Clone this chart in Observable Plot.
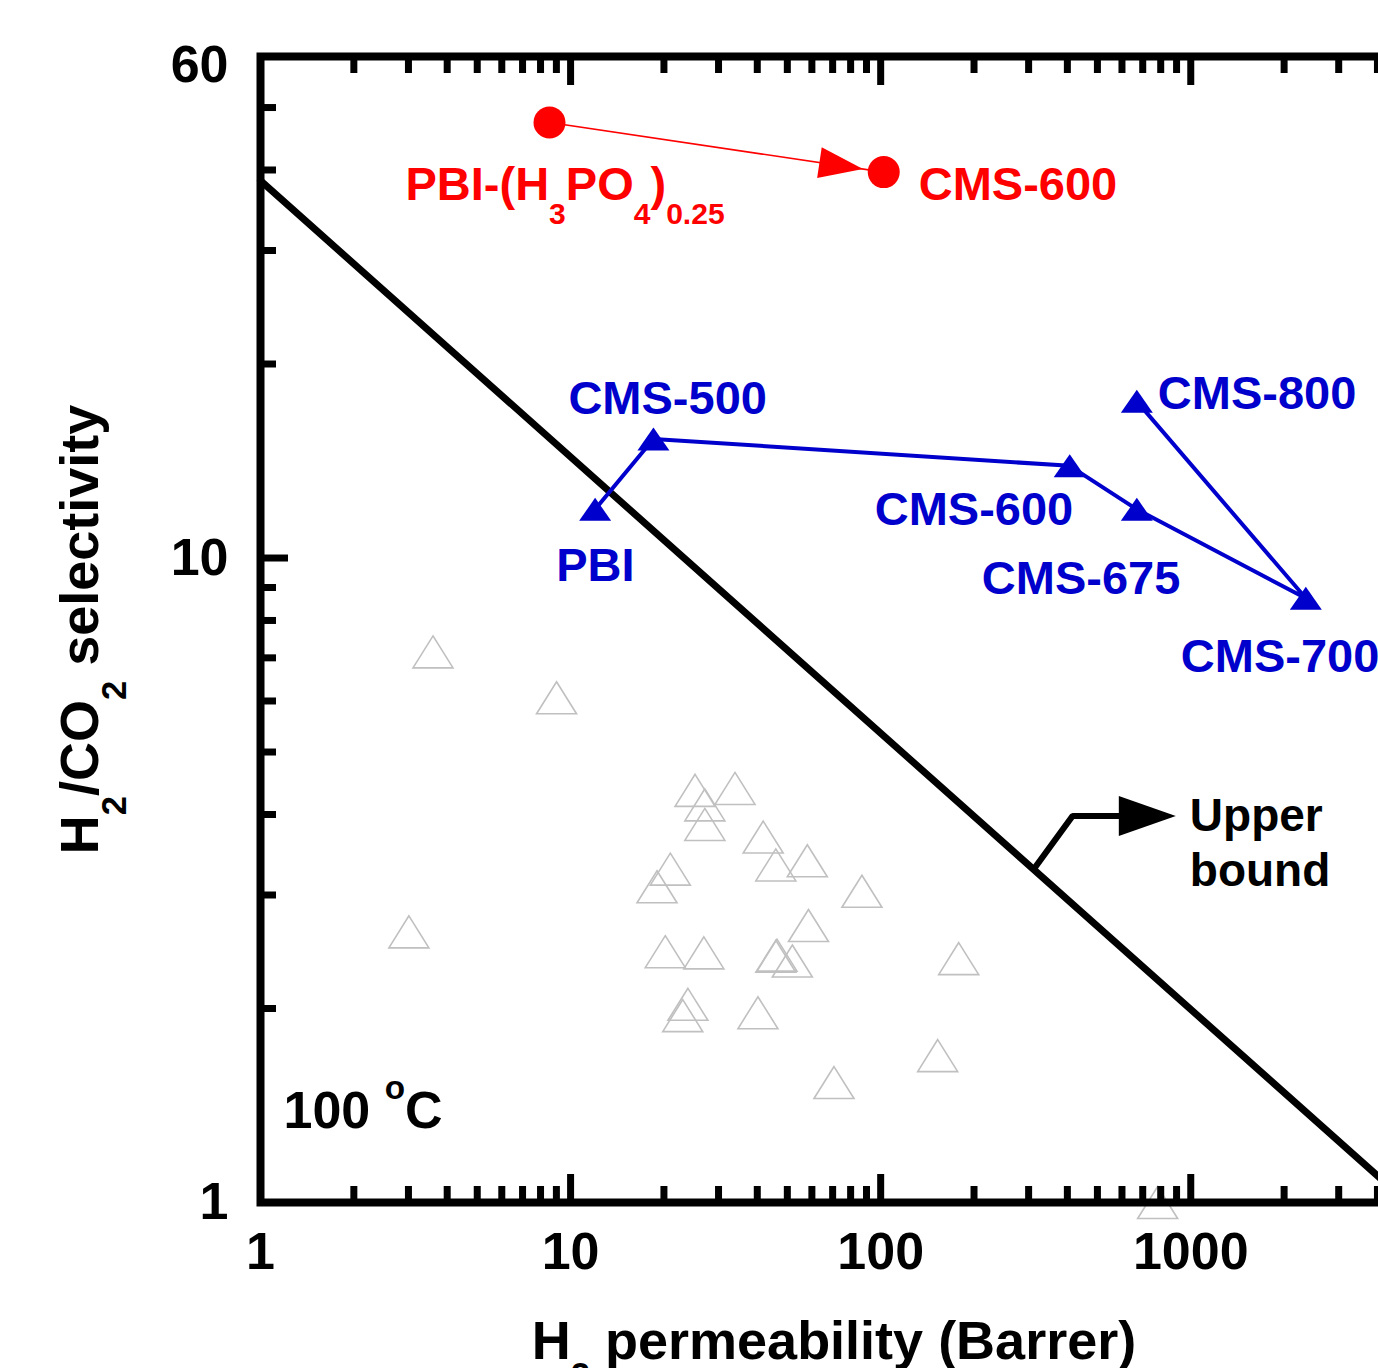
<!DOCTYPE html>
<html><head><meta charset="utf-8">
<script src="https://cdn.jsdelivr.net/npm/d3@7"></script>
<script src="https://cdn.jsdelivr.net/npm/@observablehq/plot@0.6"></script>
<style>html,body{margin:0;padding:0;background:#fff;overflow:hidden;}</style>
</head><body><div id="chart"></div>
<script>
// ---------------- data ----------------
const grayX = [3.60, 9.01, 25.2, 33.9, 27.1, 27.1, 41.8, 45.9, 58.0, 20.97, 19.0, 87.0, 3.01, 58.5, 20.2, 26.9, 45.9, 46.3, 51.9, 23.9, 23.0, 40.2, 70.7, 178.5, 152.7, 782];
const grayY = [7.15, 6.07, 4.36, 4.39, 4.14, 3.86, 3.69, 3.34, 3.39, 3.29, 3.09, 3.04, 2.63, 2.69, 2.45, 2.44, 2.41, 2.42, 2.37, 2.03, 1.95, 1.97, 1.535, 2.39, 1.69, 1.00];

const blueNames = ["PBI", "CMS-500", "CMS-600", "CMS-675", "CMS-700", "CMS-800"];
const blueX = [12.0, 18.5, 407, 670, 2350, 670];
const blueY = [11.9, 15.3, 13.9, 11.9, 8.66, 17.5];

const redNames = ["PBI-(H_{3}PO_{4})_{0.25}", "CMS-600"];
const redX = [8.55, 102.3];
const redY = [47.4, 39.7];

const boundX = [1, 5000];
const boundY = [38.5, 1.0];

const pointerX = [316, 416, 600];
const pointerY = [3.32, 3.98, 3.98];
const pointerTipX = [895];
const pointerTipY = [3.98];
const boundLabel = "Upper\nbound";
const tempLabel = "100 ^{o}C";

const xMajor = [1, 10, 100, 1000];
const xMinor = [2,3,4,5,6,7,8,9,20,30,40,50,60,70,80,90,200,300,400,500,600,700,800,900,2000,3000,4000];
const yMajor = [1, 10];
const yTopLabel = [60];
const yMinor = [2,3,4,5,6,7,8,9,20,30,40,50];

const xTitle = "H_{2} permeability (Barrer)";
const yTitle = "H_{2}/CO_{2} selectivity";

// ---------------- layout ----------------
const W = 1410, H = 1368, ML = 260, MR = 3, MT = 56, MB = 166;
const RED = "#ff0000", BLUE = "#0000cc", GRAY = "#c0c0c0";
const labelFS = 47, tickFS = 52, titleFS = 54;
const blueOffsets = [[-39, 57], [-85, -40], [-195, 44], [-155, 69.5], [-125, 58.5], [21, -7]];
const redOffsets = [[-144, 62], [35, 12.5]];

const xs = d3.scaleLog([1, 5000], [ML, W - MR]);
const ys = d3.scaleLog([1, 60], [H - MB, MT]);

const gray = grayX.map((x, i) => ({x, y: grayY[i]}));
const blue = blueX.map((x, i) => ({x, y: blueY[i], name: blueNames[i]}));
const red = redX.map((x, i) => ({x, y: redY[i], name: redNames[i]}));
const bound = boundX.map((x, i) => ({x, y: boundY[i]}));
const pointer = pointerX.map((x, i) => ({x, y: pointerY[i]}));
const pointerTip = pointerTipX.map((x, i) => ({x, y: pointerTipY[i]}));

// custom symbols
const triFill = {draw(c) { c.moveTo(0, -11.5); c.lineTo(16, 11.5); c.lineTo(-16, 11.5); c.closePath(); }};
const triHollow = {draw(c) { c.moveTo(0, -16); c.lineTo(20, 16); c.lineTo(-20, 16); c.closePath(); }};
function arrowHead(angle, len, wid, back) {
  const co = Math.cos(angle), si = Math.sin(angle);
  const pt = (u, v) => [u * co - v * si, u * si + v * co];
  return {draw(c) {
    const t = pt(-back, 0), b1 = pt(-back - len, wid / 2), b2 = pt(-back - len, -wid / 2);
    c.moveTo(t[0], t[1]); c.lineTo(b1[0], b1[1]); c.lineTo(b2[0], b2[1]); c.closePath();
  }};
}
const redAngle = Math.atan2(ys(redY[1]) - ys(redY[0]), xs(redX[1]) - xs(redX[0]));

const noLabel = () => "";
const tw = 7;

const marks = [
  Plot.dot(gray, {x: "x", y: "y", symbol: triHollow, fill: "none", stroke: GRAY, strokeWidth: 1.6}),
  Plot.line(bound, {x: "x", y: "y", stroke: "black", strokeWidth: 7}),
  Plot.line(pointer, {x: "x", y: "y", stroke: "black", strokeWidth: 6, strokeLinejoin: "miter"}),
  Plot.dot(pointerTip, {x: "x", y: "y", symbol: arrowHead(0, 57, 40, 0), fill: "black", stroke: "none"}),
  Plot.line(blue, {x: "x", y: "y", stroke: BLUE, strokeWidth: 4}),
  Plot.dot(blue, {x: "x", y: "y", symbol: triFill, fill: BLUE, stroke: "none"}),
  Plot.link([0], {x1: () => redX[0], y1: () => redY[0], x2: () => redX[1], y2: () => redY[1], stroke: RED, strokeWidth: 1.6}),
  Plot.dot([red[1]], {x: "x", y: "y", symbol: arrowHead(redAngle, 44, 31, 21), fill: RED, stroke: "none"}),
  Plot.dot(red, {x: "x", y: "y", r: 16, fill: RED, stroke: "none"}),
  ...blue.map((d, i) => Plot.text([d], {x: "x", y: "y", text: "name", fill: BLUE, fontSize: labelFS, textAnchor: "start", lineAnchor: "middle", dx: blueOffsets[i][0], dy: blueOffsets[i][1]})),
  ...red.map((d, i) => Plot.text([d], {x: "x", y: "y", text: "name", fill: RED, fontSize: labelFS, textAnchor: "start", lineAnchor: "middle", dx: redOffsets[i][0], dy: redOffsets[i][1]})),
  Plot.text(pointerTip, {x: "x", y: "y", text: () => boundLabel, fill: "black", fontSize: 46, lineHeight: 1.2, textAnchor: "start", lineAnchor: "middle", dx: 14, dy: 25}),
  Plot.text([0], {frameAnchor: "bottom-left", text: () => tempLabel, fontSize: 52, textAnchor: "start", lineAnchor: "middle", dx: 23, dy: -91.5}),
  Plot.frame({stroke: "black", strokeWidth: 8}),
  Plot.axisX(xMinor, {anchor: "bottom", tickSize: -16, tickFormat: noLabel, strokeWidth: tw, label: null}),
  Plot.axisX(xMajor, {anchor: "bottom", tickSize: -28, tickPadding: 58, tickFormat: d => String(d), fontSize: tickFS, strokeWidth: tw, label: null}),
  Plot.axisX(xMinor, {anchor: "top", tickSize: -16, tickFormat: noLabel, strokeWidth: tw, label: null}),
  Plot.axisX(xMajor, {anchor: "top", tickSize: -28, tickFormat: noLabel, strokeWidth: tw, label: null}),
  Plot.axisY(yMinor, {anchor: "left", tickSize: -16, tickFormat: noLabel, strokeWidth: tw, label: null}),
  Plot.axisY(yMajor, {anchor: "left", tickSize: -28, tickPadding: 60, tickFormat: d => String(d), fontSize: tickFS, strokeWidth: tw, label: null}),
  Plot.axisY(yTopLabel, {anchor: "left", tickSize: 0, tickPadding: 32, tickFormat: d => String(d), fontSize: tickFS, dy: 9, label: null}),
  Plot.text([0], {frameAnchor: "bottom", text: () => xTitle, fontSize: titleFS, textAnchor: "middle", lineAnchor: "top", dy: 118}),
  Plot.text([0], {frameAnchor: "left", text: () => yTitle, fontSize: titleFS, rotate: -90, textAnchor: "middle", lineAnchor: "middle", dx: -180})
];

const plot = Plot.plot({
  width: W, height: H,
  marginLeft: ML, marginRight: MR, marginTop: MT, marginBottom: MB,
  x: {type: "log", domain: [1, 5000]},
  y: {type: "log", domain: [1, 60]},
  style: {fontFamily: "'Liberation Sans', Arial, sans-serif", fontWeight: "bold", maxWidth: "none", background: "white", overflow: "visible"},
  marks
});
document.getElementById("chart").appendChild(plot);

// rich text: _{...} subscript, ^{...} superscript
function richify(svg) {
  const ns = "http://www.w3.org/2000/svg";
  svg.querySelectorAll("text").forEach(t => {
    if (t.querySelector("tspan")) return;
    const s = t.textContent;
    if (!/[_^]\{/.test(s)) return;
    const fs = parseFloat(getComputedStyle(t).fontSize);
    while (t.firstChild) t.removeChild(t.firstChild);
    const re = /([_^])\{([^}]*)\}/g;
    let last = 0, m, cur = 0;
    const add = (str, target, small) => {
      if (!str) return;
      const ts = document.createElementNS(ns, "tspan");
      ts.textContent = str;
      const d = target - cur;
      if (d) ts.setAttribute("dy", d);
      cur = target;
      if (small) ts.setAttribute("font-size", small);
      t.appendChild(ts);
    };
    while ((m = re.exec(s))) {
      add(s.slice(last, m.index), 0, null);
      add(m[2], m[1] === "_" ? 0.53 * fs : -0.55 * fs, 0.64 * fs);
      last = re.lastIndex;
    }
    add(s.slice(last), 0, null);
  });
}
richify(plot);
</script></body></html>
